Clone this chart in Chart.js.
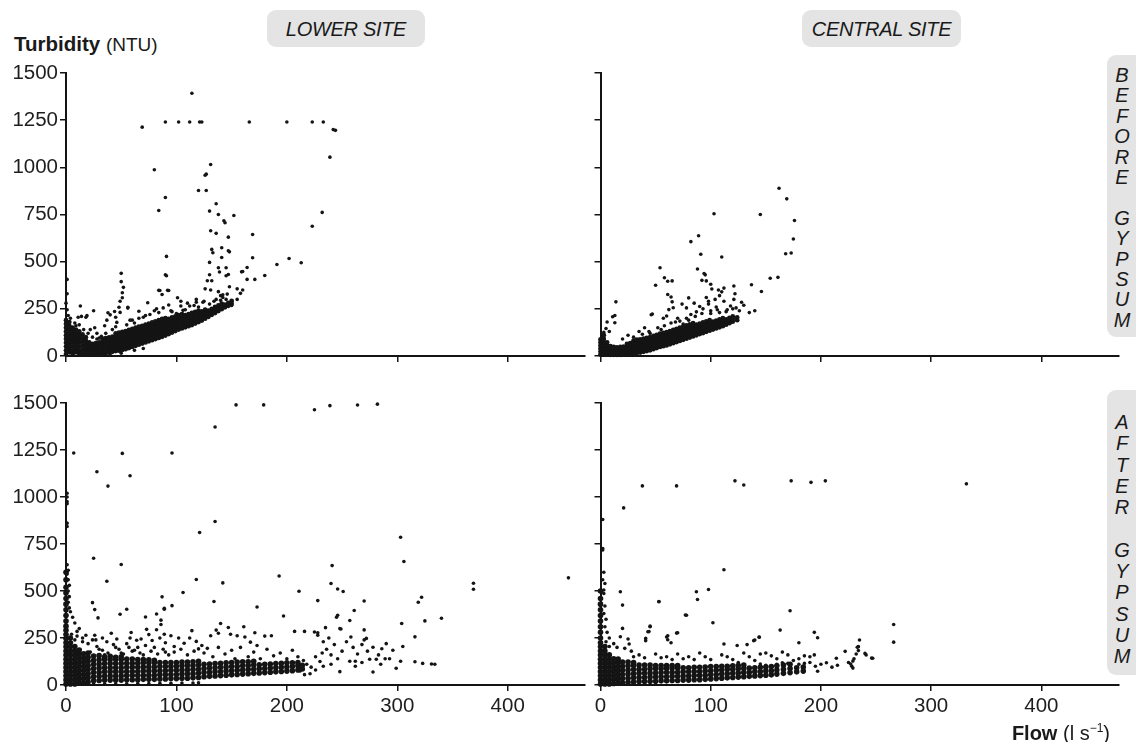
<!DOCTYPE html>
<html>
<head>
<meta charset="utf-8">
<script src="https://cdn.jsdelivr.net/npm/chart.js@4.4.0/dist/chart.umd.min.js"></script>
<style>
  body { margin: 0; background: #fff; width: 1136px; height: 742px; position: relative; overflow: hidden;
         font-family: "Liberation Sans", Arial, sans-serif; color: #1a1a1a; }
  canvas { position: absolute; }
  .site { position: absolute; top: 10px; height: 37px; background: #e4e4e4; border-radius: 9px;
          font-style: italic; font-size: 20px; line-height: 38px; text-align: center; letter-spacing: -0.3px; }
  .period { position: absolute; left: 1107px; width: 30px; padding-right: 12px; background: #e4e4e4; border-radius: 9px;
            font-style: italic; font-size: 20px; text-align: center; }
  #ylab { position: absolute; left: 14px; top: 32px; font-size: 20.5px; line-height: 24px; white-space: nowrap; }
  #xlab { position: absolute; right: 26px; top: 716px; font-size: 20px; line-height: 24px; white-space: nowrap; }
  sup { font-size: 12px; vertical-align: 8px; }
</style>
</head>
<body>
<canvas id="lowerBeforeChart" width="600" height="320" style="left:0;top:57px"></canvas>
<canvas id="centralBeforeChart" width="576" height="320" style="left:560px;top:57px"></canvas>
<canvas id="lowerAfterChart" width="600" height="355" style="left:0;top:387px"></canvas>
<canvas id="centralAfterChart" width="576" height="355" style="left:560px;top:387px"></canvas>

<div class="site" style="left:267px;width:158px">LOWER SITE</div>
<div class="site" style="left:802px;width:159px">CENTRAL SITE</div>
<div class="period" style="top:55px;height:282px;line-height:20.4px">
  <div style="padding-top:10px">B<br>E<br>F<br>O<br>R<br>E<br>&nbsp;<br>G<br>Y<br>P<br>S<br>U<br>M</div>
</div>
<div class="period" style="top:390px;height:285px;line-height:21.3px">
  <div style="padding-top:22px">A<br>F<br>T<br>E<br>R<br>&nbsp;<br>G<br>Y<br>P<br>S<br>U<br>M</div>
</div>
<div id="ylab"><b>Turbidity</b> <span style="font-size:19px">(NTU)</span></div>
<div id="xlab"><b>Flow</b> (l s<sup>−1</sup>)</div>

<script>
// flow (l/s), turbidity (NTU) pairs
// "dense" = the solid black clouds, "sparse" = the separate dots around them

const lowerBeforeDense = [
  [0,10],[0,30],[0,50],[0,70],[0,90],[0,110],[0,130],[0,150],[0,170],[0,190],
  [3,20],[3,40],[3,60],[3,80],[3,100],[3,120],[3,140],[3,160],[3,180],
  [6,10],[6,30],[6,50],[6,70],[6,90],[6,110],[6,130],[6,150],
  [9,20],[9,40],[9,60],[9,80],[9,100],[9,120],[9,140],
  [12,10],[12,30],[12,50],[12,70],[12,90],[12,110],[12,130],
  [15,15],[15,35],[15,55],[15,75],[15,95],[15,115],
  [18,10],[18,28],[18,46],[18,64],[18,82],[18,100],
  [21,8],[21,24],[21,40],[21,56],[21,72],
  [24,8],[24,22],[24,36],[24,50],[24,64],
  [27,8],[27,22],[27,36],[27,52],[27,68],
  [30,10],[30,25],[30,40],[30,56],[30,72],
  [33,12],[33,28],[33,44],[33,60],[33,76],[33,92],
  [36,14],[36,30],[36,46],[36,62],[36,78],[36,94],
  [39,18],[39,34],[39,50],[39,66],[39,82],[39,98],
  [42,22],[42,38],[42,54],[42,70],[42,86],[42,102],
  [45,26],[45,42],[45,58],[45,74],[45,90],[45,106],[45,120],
  [48,28],[48,44],[48,60],[48,76],[48,92],[48,108],[48,124],
  [51,32],[51,48],[51,64],[51,80],[51,96],[51,112],[51,128],
  [54,36],[54,52],[54,68],[54,84],[54,100],[54,116],[54,132],
  [57,42],[57,58],[57,74],[57,90],[57,106],[57,122],[57,138],
  [60,48],[60,64],[60,80],[60,96],[60,112],[60,128],[60,144],
  [63,54],[63,70],[63,86],[63,102],[63,118],[63,134],[63,150],
  [66,60],[66,76],[66,92],[66,108],[66,124],[66,140],[66,156],
  [69,66],[69,82],[69,98],[69,114],[69,130],[69,146],[69,160],
  [72,72],[72,88],[72,104],[72,120],[72,136],[72,152],[72,166],
  [75,78],[75,94],[75,110],[75,126],[75,142],[75,158],[75,172],
  [78,84],[78,100],[78,116],[78,132],[78,148],[78,164],[78,178],
  [81,90],[81,106],[81,122],[81,138],[81,154],[81,170],[81,184],
  [84,96],[84,112],[84,128],[84,144],[84,160],[84,176],[84,190],
  [87,102],[87,118],[87,134],[87,150],[87,166],[87,182],[87,196],
  [90,108],[90,124],[90,140],[90,156],[90,172],[90,188],[90,200],
  [93,116],[93,132],[93,148],[93,164],[93,180],[93,196],
  [96,124],[96,140],[96,156],[96,172],[96,188],[96,204],
  [99,132],[99,148],[99,164],[99,180],[99,196],[99,210],
  [102,140],[102,156],[102,172],[102,188],[102,204],[102,216],
  [105,146],[105,162],[105,178],[105,194],[105,210],[105,222],
  [108,152],[108,168],[108,184],[108,200],[108,216],
  [111,158],[111,174],[111,190],[111,206],[111,222],
  [114,164],[114,180],[114,196],[114,212],[114,228],
  [117,172],[117,188],[117,204],[117,220],[117,234],
  [120,180],[120,196],[120,212],[120,228],[120,240],
  [123,188],[123,204],[123,220],[123,236],
  [126,198],[126,214],[126,230],[126,246],
  [129,208],[129,224],[129,240],
  [132,218],[132,234],[132,250],
  [135,228],[135,244],[135,260],
  [138,238],[138,254],[138,268],
  [141,248],[141,264],[141,278],
  [144,258],[144,272],[147,266],[147,282],[150,276],[150,292]
];
const lowerBeforeSparse = [
  [114,1393],[69,1213],[90,1240],[102,1240],[112,1240],[121,1240],[123,1240],[166,1240],[200,1240],[223,1240],
  [233,1240],[242,1200],[244,1196],[239,1054],[80,987],[131,1015],[126,958],[127,964],[120,877],[127,877],
  [90,840],[84,771],[136,807],[130,768],[138,750],[152,745],[143,717],[144,706],[131,664],[136,650],[169,644],
  [147,630],[132,565],[133,547],[141,574],[147,558],[148,552],[141,522],[169,521],[91,528],[202,517],[213,494],
  [191,485],[130,496],[159,446],[160,448],[164,469],[138,468],[145,468],[147,432],[145,425],[130,431],[139,445],
  [132,399],[128,399],[164,406],[171,406],[180,427],[126,356],[131,350],[138,341],[140,320],[148,367],[155,356],
  [158,332],[146,328],[142,325],[91,425],[90,430],[84,348],[92,348],[50,438],[50,394],[52,364],[51,335],[51,309],
  [49,290],[48,258],[49,231],[56,254],[1,406],[1,330],[13,265],[25,240],[19,214],[14,210],[38,229],[40,218],
  [56,258],[66,237],[74,282],[82,250],[101,309],[104,290],[112,265],[106,242],[116,268],[120,260],[85,347],
  [87,326],[93,347],[44,236],[45,205],[46,178],[45,155],[11,205],[18,205],[2,215],[1,245],[0,280],[4,200],
  [8,175],[12,165],[22,140],[28,120],[32,105],[20,120],[26,150],[37,190],[35,160],[58,190],[62,175],[70,205],
  [76,220],[84,230],[95,240],[100,225],[108,245],[93,270],[118,285],[125,290],[150,290],[155,300],[160,350],
  [62,30],[70,40],[40,5],[50,15],[130,275],[145,300],[150,268],[136,300],[142,310],[223,688],[232,761],
  [30,95],[36,120],[42,140],[55,165],[60,190],[66,200],[72,215],[80,240],[88,255],[96,235],[104,265],
  [110,280],[118,300],[124,285],[134,290],[140,295],[16,140],[24,100],[28,90],[9,160]
];

const centralBeforeDense = [
  [0,8],[0,24],[0,40],[0,56],[0,72],[0,88],
  [3,8],[3,24],[3,40],[3,56],[3,72],[3,90],[3,110],
  [6,8],[6,24],[6,40],[6,56],[6,72],
  [9,6],[9,20],[9,36],[9,52],
  [12,6],[12,20],[12,34],[12,48],
  [15,6],[15,20],[15,34],[15,46],
  [18,6],[18,20],[18,34],[18,48],
  [21,8],[21,22],[21,36],[21,50],
  [24,10],[24,24],[24,38],[24,52],[24,64],
  [27,12],[27,26],[27,40],[27,54],[27,68],
  [30,14],[30,28],[30,42],[30,56],[30,70],[30,82],
  [33,16],[33,30],[33,44],[33,58],[33,72],[33,86],
  [36,18],[36,32],[36,46],[36,60],[36,74],[36,88],
  [39,22],[39,36],[39,50],[39,64],[39,78],[39,92],
  [42,26],[42,40],[42,54],[42,68],[42,82],[42,96],
  [45,30],[45,44],[45,58],[45,72],[45,86],[45,100],
  [48,36],[48,50],[48,64],[48,78],[48,92],[48,106],
  [51,42],[51,56],[51,70],[51,84],[51,98],[51,112],
  [54,48],[54,62],[54,76],[54,90],[54,104],[54,118],
  [57,52],[57,66],[57,80],[57,94],[57,108],[57,122],
  [60,56],[60,70],[60,84],[60,98],[60,112],[60,126],
  [63,62],[63,76],[63,90],[63,104],[63,118],[63,132],
  [66,68],[66,82],[66,96],[66,110],[66,124],[66,138],
  [69,74],[69,88],[69,102],[69,116],[69,130],[69,144],
  [72,80],[72,94],[72,108],[72,122],[72,136],[72,150],
  [75,86],[75,100],[75,114],[75,128],[75,142],[75,156],
  [78,92],[78,106],[78,120],[78,134],[78,148],[78,162],
  [81,98],[81,112],[81,126],[81,140],[81,154],[81,168],
  [84,104],[84,118],[84,132],[84,146],[84,160],[84,174],
  [87,110],[87,124],[87,138],[87,152],[87,166],
  [90,116],[90,130],[90,144],[90,158],[90,172],
  [93,122],[93,136],[93,150],[93,164],[93,178],
  [96,128],[96,142],[96,156],[96,170],[96,184],
  [99,134],[99,148],[99,162],[99,176],[99,190],
  [102,140],[102,154],[102,168],[102,182],
  [105,146],[105,160],[105,174],[105,188],
  [108,152],[108,166],[108,180],[108,194],
  [111,158],[111,172],[111,186],[111,200],
  [114,166],[114,180],[114,194],
  [117,174],[117,188],[117,202],
  [120,182],[120,196],[120,210],
  [124,190],[124,204]
];
const centralBeforeSparse = [
  [162,889],[169,833],[176,718],[175,620],[168,542],[173,546],[145,750],[103,754],[82,606],[89,637],[91,539],
  [110,525],[54,468],[58,415],[61,396],[65,398],[50,375],[61,326],[64,313],[65,287],[88,461],[94,437],[96,398],
  [92,401],[95,430],[100,380],[101,355],[107,350],[112,360],[110,340],[121,371],[122,330],[137,378],[146,342],
  [154,412],[161,417],[80,308],[74,275],[87,234],[82,220],[96,310],[98,290],[104,300],[108,320],[14,287],
  [13,215],[11,208],[13,176],[6,180],[5,146],[3,125],[8,130],[2,100],[47,222],[57,200],[60,212],[70,200],
  [130,269],[121,300],[123,255],[115,245],[126,240],[118,265],[108,230],[100,225],[62,246],[66,256],[90,262],
  [93,250],[46,219],[68,180],[75,170],[80,190],[40,150],[35,130],[25,110],[20,90],[45,120],[55,140],[112,290],
  [128,285],[135,230],[140,240],[105,260],[98,275],[78,255],[85,280],
  [30,100],[38,115],[44,130],[52,150],[58,160],[64,175],[72,185],[78,200],[86,210],[92,225],[100,240],
  [106,245],[114,235],[120,250]
];

const lowerAfterDense = [
  [0,5],[0,27],[0,49],[0,71],[0,93],[0,115],[0,137],[0,159],[0,181],[0,203],[0,225],[0,247],[0,269],[0,291],
  [0,313],[0,340],[0,370],[0,400],[0,430],[0,460],[0,490],[0,520],[0,560],[0,600],
  [4,5],[4,27],[4,49],[4,71],[4,93],[4,115],[4,137],[4,159],[4,181],[4,203],[4,225],[4,250],
  [8,5],[8,27],[8,49],[8,71],[8,93],[8,115],[8,137],[8,159],[8,181],[8,205],
  [12,10],[12,32],[12,54],[12,76],[12,98],[12,120],[12,142],[12,164],[12,186],
  [16,12],[16,34],[16,56],[16,78],[16,100],[16,122],[16,144],[16,166],
  [20,16],[20,38],[20,60],[20,82],[20,104],[20,126],[20,148],[20,170],
  [25,22],[25,44],[25,66],[25,88],[25,110],[25,132],[25,154],
  [30,24],[30,46],[30,68],[30,90],[30,112],[30,134],[30,156],
  [35,26],[35,48],[35,70],[35,92],[35,114],[35,136],[35,150],
  [40,26],[40,48],[40,70],[40,92],[40,114],[40,136],[40,152],
  [45,26],[45,48],[45,70],[45,92],[45,114],[45,136],[45,148],
  [50,26],[50,48],[50,70],[50,92],[50,114],[50,136],[50,150],
  [55,28],[55,50],[55,72],[55,94],[55,116],[55,138],
  [60,28],[60,50],[60,72],[60,94],[60,116],[60,138],
  [65,28],[65,50],[65,72],[65,94],[65,116],[65,136],
  [70,30],[70,52],[70,74],[70,96],[70,118],[70,136],
  [75,30],[75,52],[75,74],[75,96],[75,118],[75,134],
  [80,30],[80,52],[80,74],[80,96],[80,118],[80,132],
  [85,32],[85,54],[85,76],[85,98],[85,120],
  [90,32],[90,54],[90,76],[90,98],[90,120],
  [95,34],[95,56],[95,78],[95,100],[95,120],
  [100,34],[100,56],[100,78],[100,100],[100,120],
  [105,36],[105,58],[105,80],[105,102],[105,122],
  [110,36],[110,58],[110,80],[110,102],[110,122],
  [115,38],[115,60],[115,82],[115,104],[115,124],
  [120,40],[120,62],[120,84],[120,106],[120,126],
  [125,44],[125,66],[125,88],[125,110],
  [130,46],[130,68],[130,90],[130,112],
  [135,48],[135,70],[135,92],[135,114],
  [140,50],[140,72],[140,94],[140,116],
  [145,52],[145,74],[145,96],[145,118],
  [150,54],[150,76],[150,98],[150,120],
  [155,56],[155,78],[155,100],[155,122],
  [160,58],[160,80],[160,102],[160,124],
  [165,60],[165,82],[165,104],[165,124],
  [170,62],[170,84],[170,106],[170,126],
  [175,64],[175,86],[175,108],
  [180,66],[180,88],[180,110],
  [185,68],[185,90],[185,112],
  [190,70],[190,92],[190,114],
  [195,72],[195,94],[195,116],
  [200,74],[200,96],[200,118],
  [205,76],[205,98],[205,118],
  [210,80],[210,102],[210,120],
  [214,85],[214,105]
];
const lowerAfterSparse = [
  [154,1490],[179,1490],[225,1464],[239,1486],[264,1489],[282,1494],[135,1372],[7,1234],[51,1232],[96,1234],
  [28,1134],[58,1113],[38,1058],[1,1020],[1,1000],[1,976],[1,964],[1,861],[1,843],[135,870],[121,811],
  [303,786],[306,657],[25,674],[50,641],[37,552],[118,561],[142,543],[193,580],[369,541],[369,509],[455,570],
  [241,635],[240,540],[246,511],[251,497],[211,499],[106,492],[87,469],[24,438],[26,401],[55,403],[29,357],
  [134,444],[228,449],[270,447],[322,467],[319,440],[82,378],[72,362],[96,422],[89,403],[49,376],[173,415],
  [197,367],[261,396],[257,343],[245,360],[246,371],[325,341],[340,355],[304,327],[270,293],[235,305],
  [248,300],[249,298],[258,255],[316,256],[270,240],[272,248],[278,201],[286,193],[275,137],[281,137],
  [289,140],[293,140],[303,126],[316,124],[323,115],[331,112],[334,110],[299,89],[278,69],[248,71],[257,126],
  [262,126],[230,125],[233,100],
  [1,640],[2,610],[1,590],[2,560],[3,530],[2,500],[3,470],[2,440],[3,410],
  [86,345],[86,322],[89,408],[114,289],[136,292],[140,327],[147,306],[161,310],[89,270],[73,296],[82,294],
  [59,279],[41,275],[10,285],[18,265],[24,240],[27,240],[207,285],[216,285],[225,282],[228,278],[171,278],
  [180,260],[186,262],[138,275],[131,262],[149,270],[155,262],[112,250],[118,232],[107,222],[123,210],
  [120,192],[37,230],[55,220],[64,238],[78,237],[90,225],[162,255],[167,228],[173,210],[228,265],[233,230],
  [238,250],
  [98,175],[104,190],[110,160],[116,180],[125,170],[128,195],[133,150],[138,200],[144,165],[150,185],
  [153,140],[158,200],[165,150],[170,175],[176,140],[182,190],[188,155],[194,170],[200,140],[205,185],
  [210,150],[215,130],[218,110],[222,95],[226,150],[232,170],[236,190],[240,160],[243,215],[246,140],
  [250,180],[254,230],[260,200],[264,165],[268,215],[273,180],[283,160],[290,220],[296,185],[305,205],
  [262,100],[268,120],[285,110],[240,110],[226,80],[221,60],[216,55],[212,75],[60,180],[70,160],[50,170],
  [30,190],[20,220],[45,200],[80,200],[90,175],[35,160],[65,200],[15,250],[8,240],[5,270],[12,300],[8,330],
  [6,360],[4,390],
  [22,175],[28,205],[33,185],[38,170],[43,215],[48,190],[52,165],[57,200],[62,185],[67,170],[72,210],
  [77,180],[83,165],[88,190],[93,160],[98,205],[15,230],[26,265],[33,250],[46,245],[58,250],[68,245],
  [75,268],[85,250],[95,262],[102,250],[10,260],
  [25,6],[35,6],[45,7],[55,7],[65,8],[75,8],[85,9],[95,9],[105,10],[115,10],[120,12]
];

const centralAfterDense = [
  [0,5],[0,27],[0,49],[0,71],[0,93],[0,115],[0,137],[0,159],[0,181],[0,203],[0,225],[0,250],[0,280],
  [0,310],[0,340],[0,370],[0,400],[0,430],[0,460],[0,500],
  [4,5],[4,27],[4,49],[4,71],[4,93],[4,115],[4,137],[4,159],[4,181],[4,205],
  [8,5],[8,27],[8,49],[8,71],[8,93],[8,115],[8,137],[8,160],
  [12,8],[12,30],[12,52],[12,74],[12,96],[12,118],[12,140],
  [16,10],[16,32],[16,54],[16,76],[16,98],[16,120],[16,138],
  [20,12],[20,34],[20,56],[20,78],[20,100],[20,122],
  [25,14],[25,36],[25,58],[25,80],[25,102],[25,122],
  [30,16],[30,38],[30,60],[30,82],[30,104],[30,120],
  [35,18],[35,40],[35,62],[35,84],[35,106],
  [40,18],[40,40],[40,62],[40,84],[40,106],
  [45,20],[45,42],[45,64],[45,86],[45,106],
  [50,20],[50,42],[50,64],[50,86],[50,104],
  [55,22],[55,44],[55,66],[55,88],[55,104],
  [60,22],[60,44],[60,66],[60,88],[60,104],
  [65,24],[65,46],[65,68],[65,90],[65,104],
  [70,24],[70,46],[70,68],[70,90],[70,104],
  [75,26],[75,48],[75,70],[75,92],
  [80,26],[80,48],[80,70],[80,92],
  [85,28],[85,50],[85,72],[85,94],
  [90,28],[90,50],[90,72],[90,94],
  [95,30],[95,52],[95,74],[95,96],
  [100,32],[100,54],[100,76],[100,98],
  [105,34],[105,56],[105,78],[105,98],
  [110,36],[110,58],[110,80],[110,100],
  [115,38],[115,60],[115,82],[115,100],
  [120,40],[120,62],[120,84],[120,102],
  [125,42],[125,64],[125,86],[125,104],
  [130,44],[130,66],[130,88],[130,106],
  [135,46],[135,68],[135,90],
  [140,48],[140,70],[140,92],
  [145,50],[145,72],[145,94],
  [150,52],[150,74],[150,96],
  [155,54],[155,76],[155,98],
  [160,58],[160,80],[160,102],
  [166,62],[166,84],[166,106],
  [172,66],[172,88],[172,110],
  [178,70],[178,92],[184,74],[184,96]
];
const centralAfterSparse = [
  [38,1059],[69,1059],[122,1086],[130,1064],[173,1086],[191,1078],[204,1086],[332,1070],[21,942],[2,880],
  [2,726],[2,718],[112,613],[3,505],[3,487],[18,496],[20,425],[87,496],[88,455],[98,508],[53,444],[77,372],
  [172,395],[102,331],[266,322],[266,228],[163,292],[45,313],[43,283],[41,248],[20,301],[69,276],[61,262],
  [60,255],[144,255],[140,239],[194,280],[197,251],[235,239],[234,204],[240,168],[246,143],[197,73],[229,90],
  [229,127],[232,165],
  [2,560],[3,600],[4,540],[4,420],[3,380],[5,350],[4,310],[6,280],[8,250],[5,230],
  [18,257],[25,245],[26,218],[41,236],[44,284],[45,310],[53,443],[61,241],[64,225],[70,278],[78,371],
  [112,218],[124,210],[133,215],[139,236],[144,254],[180,225],[233,201],[234,183],[241,160],[247,142],
  [228,100],[230,139],[214,142],[222,179],[225,120],[227,112],[190,150],[194,160],[180,140],[185,155],
  [170,160],[175,130],[200,110],[205,118],[210,95],[215,105],[150,170],[155,155],[160,140],[165,175],
  [130,170],[135,150],[140,130],[145,165],[115,150],[120,135],[110,160],[125,120],[95,150],[100,135],
  [90,170],[80,150],[85,135],[70,165],[75,140],[60,150],[65,135],[50,165],[55,145],[35,160],[40,145],
  [28,180],[30,150],[22,195],[12,220],[15,200],[8,205],[180,110],[185,115],[190,120],[195,100],[160,110],
  [165,118],[170,115],[150,105],[155,100],[145,112]
];

const flowTicks = [0, 100, 200, 300, 400];
const turbidityTicks = [0, 250, 500, 750, 1000, 1250, 1500];

Chart.defaults.font.family = '"Liberation Sans", Arial, sans-serif';
Chart.defaults.font.size = 20.5;
Chart.defaults.color = '#1e1e1e';

const ink = '#141414';

function toPoints(pairs) {
  return pairs.map(p => ({ x: p[0], y: p[1] }));
}

function makePanel(id, dense, sparse, showY, showX, yWidth, xHeight, rightPad, denseRadius) {
  new Chart(document.getElementById(id), {
    type: 'scatter',
    data: {
      datasets: [
        { data: toPoints(dense), pointRadius: denseRadius, pointBorderWidth: 0, backgroundColor: ink, clip: false },
        { data: toPoints(sparse), pointRadius: 1.8, pointBorderWidth: 0, backgroundColor: ink, clip: false }
      ]
    },
    options: {
      responsive: false,
      animation: false,
      events: [],
      layout: { padding: { top: 16, right: rightPad, left: 0, bottom: 0 } },
      plugins: { legend: { display: false }, tooltip: { enabled: false } },
      scales: {
        x: {
          type: 'linear', min: 0, max: 470,
          afterBuildTicks: s => { s.ticks = flowTicks.map(v => ({ value: v })); },
          afterFit: s => { s.height = xHeight; },
          ticks: { display: showX, padding: 3, callback: v => String(v) },
          grid: { drawOnChartArea: false, drawTicks: true, tickLength: 6, color: ink, lineWidth: 1.5 },
          border: { display: true, color: ink, width: 2 }
        },
        y: {
          type: 'linear', min: 0, max: 1500,
          afterBuildTicks: s => { s.ticks = turbidityTicks.map(v => ({ value: v })); },
          afterFit: s => { s.width = yWidth; },
          ticks: { display: showY, padding: 2, callback: v => String(v) },
          grid: { drawOnChartArea: false, drawTicks: true, tickLength: 6, color: ink, lineWidth: 1.5 },
          border: { display: true, color: ink, width: 2 }
        }
      }
    }
  });
}

makePanel('lowerBeforeChart', lowerBeforeDense, lowerBeforeSparse, true, false, 66, 21, 15, 2.4);
makePanel('centralBeforeChart', centralBeforeDense, centralBeforeSparse, false, false, 40.5, 21, 17.5, 2.4);
makePanel('lowerAfterChart', lowerAfterDense, lowerAfterSparse, true, true, 66, 57, 15, 2.8);
makePanel('centralAfterChart', centralAfterDense, centralAfterSparse, false, true, 40.5, 57, 17.5, 2.8);
</script>
</body>
</html>
